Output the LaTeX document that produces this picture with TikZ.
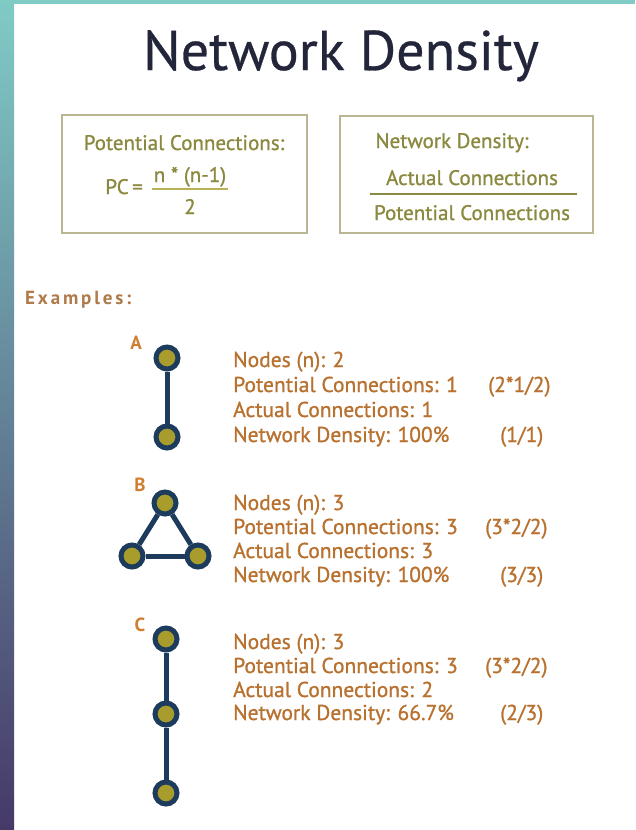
\documentclass[tikz,border=0pt]{standalone}
\usepackage{fontspec}
\setmainfont{PT Sans}
\newfontfamily\semib{PT Sans}[FakeBold=1]
\newfontfamily\titlef{PT Sans}[FakeBold=0.5]
\newfontfamily\exfont{PT Sans}[LetterSpace=15]
\definecolor{tealc}{HTML}{80CBC6}
\definecolor{stripmid}{HTML}{5E8796}
\definecolor{purp}{HTML}{463968}
\definecolor{titlec}{HTML}{23263A}
\definecolor{olivetext}{HTML}{8A893F}
\definecolor{boxline}{HTML}{BAB692}
\definecolor{fracline}{HTML}{B9B255}
\definecolor{orangec}{HTML}{B8712E}
\definecolor{letterc}{HTML}{D07E30}
\definecolor{exc}{HTML}{B07A4A}
\definecolor{navy}{HTML}{1D3B5C}
\definecolor{nodefill}{HTML}{A89D2C}
\begin{document}
\begin{tikzpicture}[x=1pt,y=-1pt,
  gnode/.style={circle, fill=nodefill, draw=navy, line width=5pt, minimum size=22pt, inner sep=0pt},
  link/.style={navy, line width=5pt},
  boxframe/.style={draw=boxline, line width=1.5pt},
  boxtext/.style={text=olivetext, font=\semib\fontsize{21}{22}\selectfont, inner sep=0pt, anchor=base},
  info/.style={text=orangec, font=\semib\fontsize{21.5}{24}\selectfont, anchor=base west, inner sep=0pt},
  letter/.style={text=letterc, font=\bfseries\fontsize{19}{20}\selectfont, inner sep=0pt}]
\useasboundingbox (0,0) rectangle (635,830);
\fill[white] (0,0) rectangle (635,830);
\fill[tealc] (0,0) rectangle (635,4);
\shade[top color=tealc, middle color=stripmid, bottom color=purp] (0,0) rectangle (14,830);

% title
\node[text=titlec, font=\titlef\fontsize{56}{60}\selectfont, inner sep=0pt, anchor=base] (title) at (341,70) {Network Density};

% boxes
\draw[boxframe] (62,115) rectangle (307,233);
\draw[boxframe] (340,116) rectangle (593,233);
\node[boxtext] (pch) at (184,150) {Potential Connections:};
\node[boxtext, anchor=base east] (pc) at (143,194) {PC\,=};
\node[boxtext] (num) at (190,182) {n * (n-1)};
\node[boxtext] (den) at (190,214) {2};
\draw[fracline, line width=1.3pt] (152,189) -- (228,189);
\node[boxtext] (ndh) at (452,148) {Network Density:};
\node[boxtext] (act) at (472,185) {Actual Connections};
\node[boxtext] (pot) at (472,220) {Potential Connections};
\draw[olivetext, line width=1.3pt] (370,194) -- (577,194);

% examples label
\node[text=exc, font=\exfont\bfseries\fontsize{19}{20}\selectfont, anchor=base west, inner sep=0pt] (ex) at (25,304) {Examples:};

% A
\node[letter] (la) at (136,343) {A};
\node[gnode] (a1) at (167,358) {};
\node[gnode] (a2) at (167,437) {};
\draw[link] (a1) -- (a2);
\node[info] (ta1) at (233,367) {Nodes (n): 2};
\node[info] (ta2) at (233,392) {Potential Connections: 1};
\node[info] (ta3) at (233,417) {Actual Connections: 1};
\node[info] (ta4) at (233,442) {Network Density: 100\%};
\node[info] (ra2) at (488,392) {(2*1/2)};
\node[info] (ra4) at (500,442) {(1/1)};

% B
\node[letter] (lb) at (140,485) {B};
\node[gnode] (b1) at (165,503) {};
\node[gnode] (b2) at (132,556) {};
\node[gnode] (b3) at (198,556) {};
\draw[link] (b1) -- (b2);
\draw[link] (b2) -- (b3);
\draw[link] (b3) -- (b1);
\node[info] (tb1) at (233,510) {Nodes (n): 3};
\node[info] (tb2) at (233,534) {Potential Connections: 3};
\node[info] (tb3) at (233,558) {Actual Connections: 3};
\node[info] (tb4) at (233,582) {Network Density: 100\%};
\node[info] (rb2) at (485,534) {(3*2/2)};
\node[info] (rb4) at (500,582) {(3/3)};

% C
\node[letter] (lc) at (140,625) {C};
\node[gnode] (c1) at (166,639) {};
\node[gnode] (c2) at (166,714) {};
\node[gnode] (c3) at (166,793) {};
\draw[link] (c1) -- (c2);
\draw[link] (c2) -- (c3);
\node[info] (tc1) at (233,649) {Nodes (n): 3};
\node[info] (tc2) at (233,673) {Potential Connections: 3};
\node[info] (tc3) at (233,697) {Actual Connections: 2};
\node[info] (tc4) at (233,720) {Network Density: 66.7\%};
\node[info] (rc2) at (485,673) {(3*2/2)};
\node[info] (rc4) at (500,720) {(2/3)};
\end{tikzpicture}
\end{document}
